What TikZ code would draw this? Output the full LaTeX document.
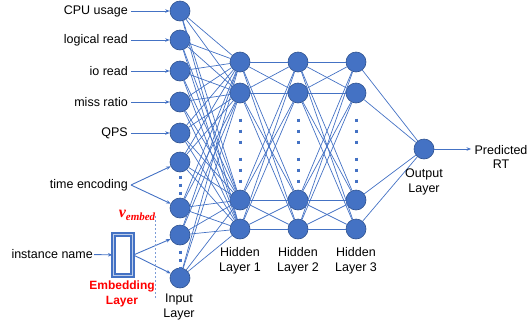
\documentclass[tikz,border=0pt]{standalone}
\usepackage{fontspec}
\setmainfont{Liberation Sans}
\newfontfamily\embfont{Liberation Serif}
\usepackage{amsmath,amssymb}
\usepackage{xcolor}
\usepackage{tikz}
\usetikzlibrary{arrows.meta,positioning,calc}

\definecolor{nnblue}{HTML}{4472C4}
\definecolor{nnedge}{HTML}{2F528F}
\definecolor{embred}{HTML}{FF0000}

\begin{document}
\begin{tikzpicture}[
    x=1pt, y=-1pt,
    neuron/.style={circle, fill=nnblue, draw=nnedge, line width=0.6pt, minimum size=20pt, inner sep=0pt},
    feat/.style={anchor=east, inner sep=3pt, font=\fontsize{12.5}{14}\selectfont},
    layercap/.style={align=center, font=\fontsize{12.5}{14.5}\selectfont},
    link/.style={draw=nnblue, line width=0.7pt},
    arr/.style={draw=nnblue, line width=0.9pt, -{Stealth[length=4.5pt,width=3.5pt]}},
    vdots/.style={draw=nnblue, line width=3pt, dash pattern=on 3pt off 5pt},
    hdots/.style={draw=nnblue, line width=3pt, dash pattern=on 3pt off 8pt}
]
    \useasboundingbox (0,0) rectangle (527,322);

    % Input layer
    \foreach \i/\y in {1/11, 2/40, 3/71, 4/102, 5/133, 6/162, 7/208, 8/235, 9/278}
        \node[neuron] (in\i) at (180,\y) {};
    \draw[vdots] (180,175.5) -- (180,195);
    \draw[vdots] (180,250.5) -- (180,270);

    % Hidden layers
    \foreach \l/\x in {1/240, 2/298, 3/356} {
        \foreach \j/\y in {1/62, 2/93, 3/200, 4/229}
            \node[neuron] (h\l-\j) at (\x,\y) {};
        \draw[hdots] (\x,118.5) -- (\x,144);
        \draw[hdots] (\x,157.5) -- (\x,184);
    }

    % Output layer
    \node[neuron] (out) at (424,149) {};

    % Connections
    \foreach \i in {1,...,9}
        \foreach \j in {1,...,4}
            \draw[link] (in\i) -- (h1-\j);
    \foreach \i in {1,...,4}
        \foreach \j in {1,...,4} {
            \draw[link] (h1-\i) -- (h2-\j);
            \draw[link] (h2-\i) -- (h3-\j);
        }
    \foreach \i in {1,...,4}
        \draw[link] (h3-\i) -- (out);

    % Features
    \node[feat] (f1) at (131,11) {CPU usage};
    \node[feat] (f2) at (131,40) {logical read};
    \node[feat] (f3) at (131,71) {io read};
    \node[feat] (f4) at (131,102) {miss ratio};
    \node[feat] (f5) at (131,133) {QPS};
    \node[feat] (f6) at (131,185) {time encoding};
    \foreach \i in {1,...,5}
        \draw[arr] (f\i) -- (in\i);
    \draw[arr] (f6.east) -- (in6);
    \draw[arr] (f6.east) -- (in7);

    % Embedding
    \node[feat, inner sep=1pt] (inst) at (94,254) {instance name};
    \node[draw=nnblue, double=nnblue!35, double distance=0.9pt, line width=1.9pt,
          minimum width=19pt, minimum height=41pt, inner sep=0pt] (emb) at (123,255) {};
    \draw[arr] (inst) -- (emb);
    \draw[arr] (emb.east) -- (in8);
    \draw[arr] (emb.east) -- (in9);
    \coordinate (cut1) at (155,216);
    \coordinate (cut2) at (155,298);
    \draw[nnblue!70, line width=1pt, dash pattern=on 2pt off 2pt] (cut1) -- (cut2);
    \node[text=embred, font=\embfont\bfseries\itshape\fontsize{16}{18}\selectfont] (vemb) at (137,215)
        {v\raisebox{-3pt}{\fontsize{11}{12}\selectfont embed}};
    \node[layercap, text=embred, font=\fontsize{12}{14.5}\selectfont\bfseries] (embl) at (122,294) {Embedding\\Layer};

    % Captions
    \node[layercap] (cin) at (179,307) {Input\\Layer};
    \node[layercap] (ch1) at (240,261) {Hidden\\Layer 1};
    \node[layercap] (ch2) at (298,261) {Hidden\\Layer 2};
    \node[layercap] (ch3) at (356,261) {Hidden\\Layer 3};
    \node[layercap] (cout) at (424,182) {Output\\Layer};
    \node[layercap] (pred) at (501,157) {Predicted\\RT};
    \draw[arr] (out) -- (out -| pred.west);
\end{tikzpicture}
\end{document}
